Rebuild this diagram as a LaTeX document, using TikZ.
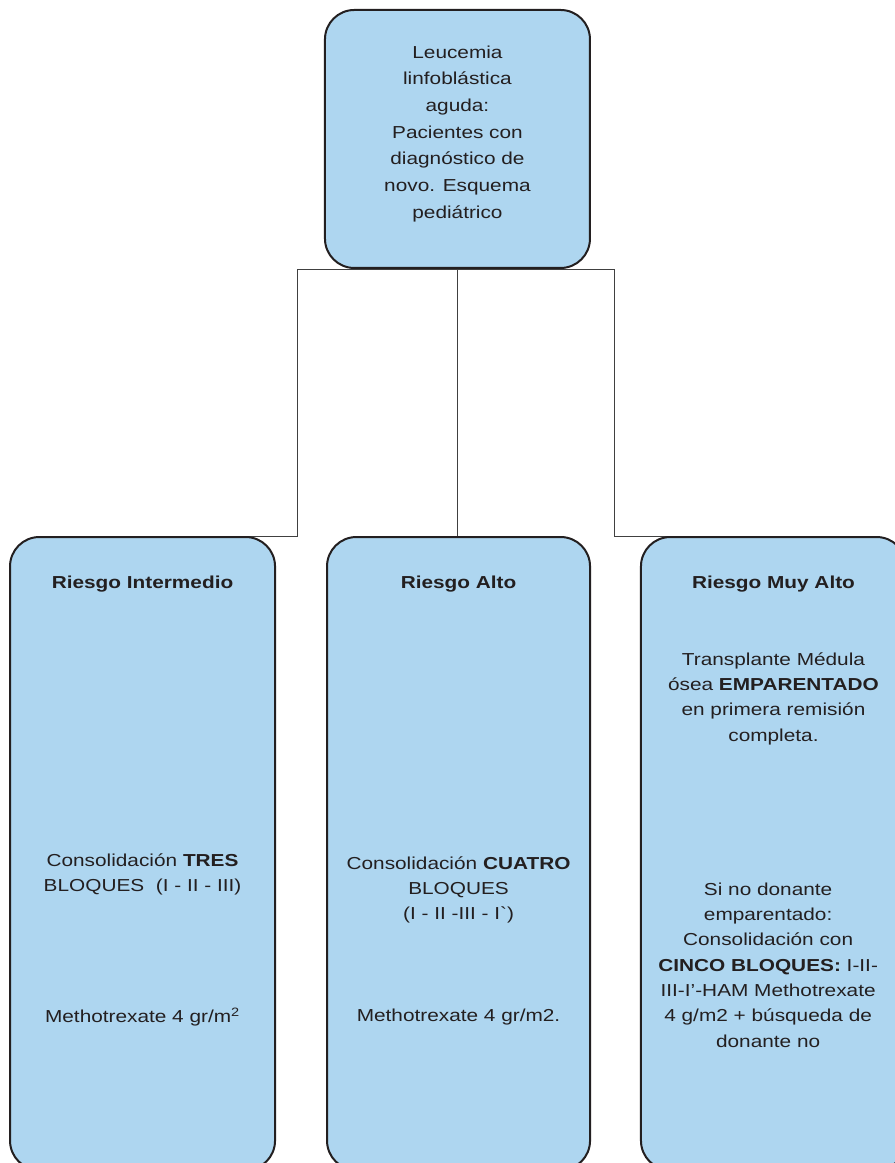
\documentclass[tikz,border=0pt]{standalone}
\usepackage{fontspec}
\newfontfamily\arialfont{Liberation Sans}[FakeStretch=1.2]
\usetikzlibrary{positioning, backgrounds}

\definecolor{boxblue}{RGB}{174,214,240}
\definecolor{boxline}{RGB}{35,31,32}

\tikzset{
  riskbox/.style = {draw = boxline, fill = boxblue, line width = 1.5pt,
    rounded corners = 22pt, inner sep = 0pt},
  txt/.style = {align = center, text = boxline, inner sep = 0pt,
    font = \arialfont\fontsize{13}{19}\selectfont},
  link/.style = {draw = black!75, line width = 0.7pt}
}

\begin{document}
\begin{tikzpicture}[x = 1pt, y = 1pt]

\useasboundingbox (0,0) rectangle (671.25,872.25);
\clip (0,0) rectangle (671.25,872.25);

\node[riskbox, minimum width = 198.75pt, minimum height = 193.5pt] (diag) at (343.1,768) {};
\node[txt, font = \arialfont\fontsize{13}{20}\selectfont, yshift = 4pt] (diagtxt) at (diag.center)
  {Leucemia\\linfoblástica\\aguda:\\Pacientes con\\diagnóstico de\\novo. Esquema\\pediátrico};

\node[riskbox, minimum width = 198.75pt, minimum height = 474.75pt] (inter) at (106.9,232.1) {};
\node[riskbox, minimum width = 197.25pt, minimum height = 474.75pt] (alto) at (343.9,232.1) {};
\node[riskbox, minimum width = 198.75pt, minimum height = 474.75pt] (muyalto) at (580.1,232.1) {};

% riesgo intermedio
\node[txt, below = 36pt of inter.north, anchor = center] (intname) {\textbf{Riesgo Intermedio}};
\node[txt, below = 253.9pt of inter.north, anchor = center] (intcons)
  {Consolidación \textbf{TRES}\\BLOQUES~ (I - II - III)};
\node[txt, below = 360.75pt of inter.north, anchor = center] (intmtx)
  {Methotrexate 4 gr/m\textsuperscript{2}};

% riesgo alto
\node[txt, below = 36pt of alto.north, anchor = center] (altoname) {\textbf{Riesgo Alto}};
\node[txt, below = 265.5pt of alto.north, anchor = center] (altocons)
  {Consolidación \textbf{CUATRO}\\BLOQUES\\(I - II -III - I`)};
\node[txt, below = 360.75pt of alto.north, anchor = center] (altomtx)
  {Methotrexate 4 gr/m2.};

% riesgo muy alto
\node[txt, below = 36pt of muyalto.north, anchor = center] (maname) {\textbf{Riesgo Muy Alto}};
\node[txt, below = 121.9pt of muyalto.north, anchor = center] (matmo)
  {Transplante Médula\\ósea \textbf{EMPARENTADO}\\en primera remisión\\completa.};
\node[txt, below = 321.75pt of muyalto.north, anchor = center, xshift = -4pt] (manodon)
  {Si no donante\\emparentado:\\Consolidación con\\\textbf{CINCO BLOQUES:} I-II-\\III-I’-HAM Methotrexate\\4 g/m2 + búsqueda de\\donante no};

\coordinate (lkink) at (222.75,0);
\coordinate (rkink) at (460.5,0);

\begin{scope}[on background layer]
\draw[link] (diag.south) -| (lkink |- inter.north) -- (inter.north);
\draw[link] (diag.south) -- (diag.south |- alto.north);
\draw[link] (diag.south) -| (rkink |- muyalto.north) -- (muyalto.north);
\end{scope}

\end{tikzpicture}
\end{document}
